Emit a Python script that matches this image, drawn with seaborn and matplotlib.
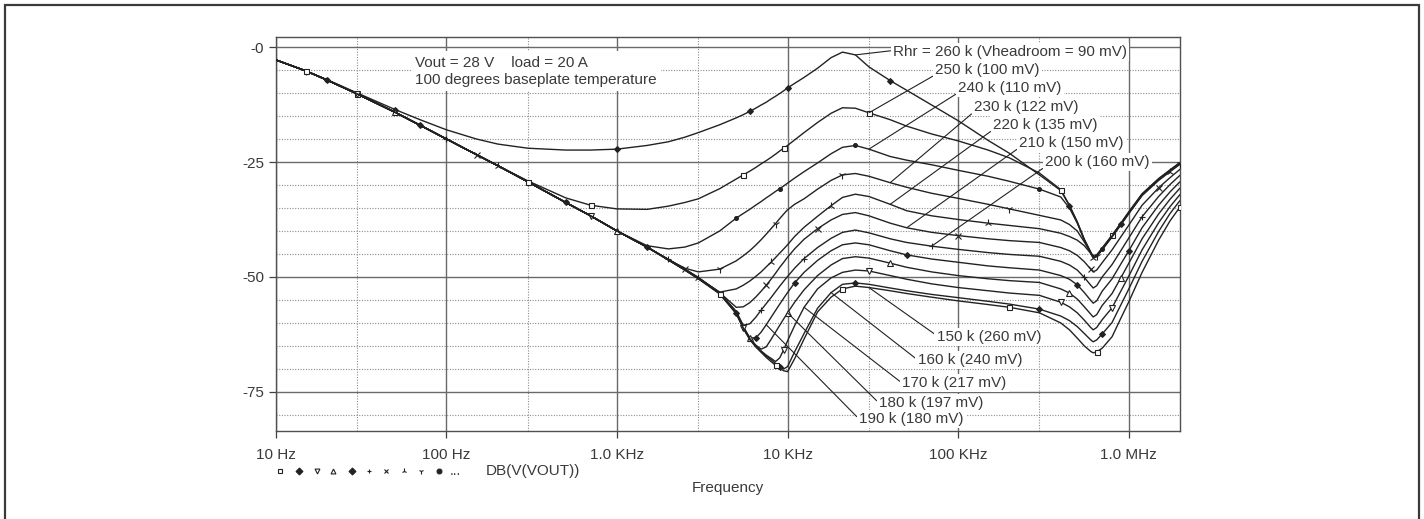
"""Headroom sweep Bode plot (PSpice style) redrawn with seaborn. Saves out.png."""
import matplotlib
matplotlib.use("Agg")
import matplotlib.pyplot as plt
from matplotlib.patches import Rectangle
from matplotlib.ticker import FixedLocator, MultipleLocator, NullFormatter
import pandas as pd
import seaborn as sns

# ---- data ------------------------------------------------------------------
FREQ_HZ = [
    10, 15, 20, 30, 50, 70, 100, 150, 200, 300, 500, 700,
    1e3, 1.5e3, 2e3, 2.5e3, 3e3, 4e3, 5e3, 5.5e3, 6e3, 6.5e3, 7e3, 7.5e3,
    8e3, 8.5e3, 9e3, 9.5e3, 10e3, 11e3, 12.5e3, 15e3, 18e3, 21e3, 25e3, 30e3,
    40e3, 50e3, 70e3, 100e3, 150e3, 200e3, 300e3, 400e3, 450e3, 500e3, 550e3, 600e3,
    620e3, 650e3, 700e3, 800e3, 900e3, 1e6, 1.2e6, 1.5e6, 1.75e6, 2e6,
]

# shared low-frequency roll-off (10 Hz .. 700 Hz)
LOW_DB = [-2.8, -5.2, -7.2, -10.2, -14.2, -17.0, -20.0, -23.4, -25.8, -29.3, -33.8, -36.7]

DB_260K = [
    -2.8, -5.2, -7.1, -10.0, -13.6, -15.8, -18.0, -20.0, -21.1, -22.0, -22.4, -22.4,
    -22.2, -21.4, -20.6, -19.6, -18.6, -16.9, -15.4, -14.7, -14.0, -13.3, -12.6, -12.0,
    -11.3, -10.7, -10.1, -9.5, -8.9, -7.9, -6.6, -4.6, -2.3, -1.1, -1.7, -4.3,
    -7.3, -9.4, -12.6, -16.0, -20.3, -23.1, -27.8, -31.2, -34.5, -38.0, -41.8, -44.6,
    -45.6, -45.3, -43.8, -41.0, -38.4, -36.0, -32.0, -28.7, -26.8, -25.2,
]
DB_250K = [
    -2.8, -5.2, -7.2, -10.2, -14.2, -17.0, -20.0, -23.4, -25.8, -29.1, -32.8, -34.4,
    -35.2, -35.3, -34.6, -33.8, -33.0, -30.8, -28.7, -27.8, -27.0, -26.2, -25.4, -24.7,
    -24.0, -23.3, -22.6, -22.0, -21.4, -20.2, -18.6, -16.4, -14.4, -13.2, -13.3, -14.3,
    -15.8, -17.2, -18.9, -20.4, -22.4, -24.1, -27.4, -31.0, -34.4, -38.1, -41.9, -44.7,
    -45.6, -45.2, -43.7, -40.9, -38.3, -35.9, -31.9, -28.6, -26.7, -25.1,
]
DB_240K = LOW_DB + [
    -40.0, -43.2, -43.9, -43.5, -42.6, -40.0, -37.2, -36.2, -35.3, -34.4, -33.6, -32.8,
    -32.1, -31.4, -30.8, -30.2, -29.6, -28.5, -27.1, -25.2, -23.2, -21.8, -21.4, -22.2,
    -23.8, -24.6, -25.6, -26.8, -28.1, -29.2, -30.9, -32.6, -35.0, -38.3, -42.0, -44.7,
    -45.7, -45.4, -43.9, -41.1, -38.5, -36.1, -32.1, -28.8, -26.9, -25.3,
]
DB_230K = LOW_DB + [
    -40.0, -43.5, -46.2, -48.1, -48.9, -48.3, -46.5, -45.4, -44.3, -43.1, -41.9, -40.7,
    -39.5, -38.4, -37.3, -36.3, -35.4, -34.2, -33.0, -30.9, -29.0, -27.8, -27.5, -28.1,
    -29.5, -30.5, -31.8, -32.9, -34.2, -35.2, -36.6, -37.6, -38.6, -40.0, -42.4, -44.8,
    -45.8, -45.5, -44.0, -41.2, -38.6, -36.2, -32.2, -28.9, -27.0, -25.4,
]
DB_220K = LOW_DB + [
    -40.0, -43.5, -46.2, -48.3, -50.3, -53.3, -52.6, -51.8, -50.9, -49.9, -48.9, -47.8,
    -46.8, -45.8, -44.8, -43.9, -43.0, -41.2, -39.2, -36.8, -34.5, -32.7, -32.0, -32.5,
    -34.2, -35.6, -36.7, -37.5, -38.3, -38.8, -39.5, -40.5, -41.2, -42.0, -43.2, -44.9,
    -45.9, -45.6, -44.1, -41.3, -38.7, -36.3, -32.3, -29.0, -27.1, -25.5,
]
DB_210K = LOW_DB + [
    -40.0, -43.5, -46.2, -48.3, -50.2, -53.4, -56.6, -56.5, -55.6, -54.4, -53.1, -51.8,
    -50.5, -49.2, -47.9, -46.8, -45.7, -43.9, -41.8, -39.5, -37.6, -36.4, -36.0, -36.7,
    -38.3, -39.3, -40.3, -41.0, -41.7, -42.1, -42.5, -43.6, -44.3, -45.3, -46.7, -48.3,
    -48.9, -48.5, -46.9, -44.1, -41.3, -38.8, -34.4, -30.6, -28.4, -26.6,
]
DB_200K = LOW_DB + [
    -40.0, -43.5, -46.2, -48.3, -50.1, -53.4, -57.5, -60.5, -60.2, -58.8, -57.2, -55.8,
    -54.5, -53.2, -52.0, -50.9, -49.9, -48.1, -46.0, -43.6, -41.6, -40.3, -39.8, -40.4,
    -41.7, -42.5, -43.3, -44.0, -44.7, -45.1, -45.5, -46.6, -47.4, -48.5, -50.1, -51.8,
    -52.4, -51.9, -50.0, -47.3, -44.3, -41.6, -36.9, -32.5, -29.9, -27.9,
]
DB_190K = LOW_DB + [
    -40.0, -43.5, -46.2, -48.4, -50.2, -53.5, -57.6, -60.8, -63.2, -63.3, -62.0, -60.4,
    -58.8, -57.3, -55.9, -54.6, -53.4, -51.3, -49.0, -46.4, -44.3, -43.0, -42.6, -43.0,
    -44.3, -45.2, -46.1, -46.8, -47.6, -48.0, -48.5, -49.7, -50.5, -51.7, -53.4, -55.1,
    -55.7, -55.2, -53.1, -50.4, -47.2, -44.4, -39.3, -34.4, -31.5, -29.3,
]
DB_180K = LOW_DB + [
    -40.0, -43.5, -46.3, -48.4, -50.3, -53.5, -57.7, -60.9, -63.3, -64.8, -65.7, -65.2,
    -63.6, -62.0, -60.5, -59.1, -57.8, -55.5, -52.8, -49.7, -47.4, -46.0, -45.6, -45.9,
    -47.0, -47.9, -48.9, -49.7, -50.4, -50.8, -51.2, -52.6, -53.5, -54.8, -56.5, -58.1,
    -58.7, -58.2, -56.2, -53.6, -50.2, -47.1, -41.7, -36.3, -33.1, -30.7,
]
DB_170K = LOW_DB + [
    -40.0, -43.5, -46.3, -48.5, -50.3, -53.6, -57.8, -61.0, -63.4, -64.9, -66.1, -67.0,
    -67.7, -68.4, -67.6, -65.8, -63.9, -60.6, -56.6, -52.6, -50.2, -49.0, -48.5, -48.7,
    -49.7, -50.5, -51.5, -52.3, -53.0, -53.5, -54.0, -55.5, -56.5, -57.8, -59.4, -61.0,
    -61.5, -61.0, -59.3, -56.7, -53.1, -49.9, -44.1, -38.2, -34.7, -32.1,
]
DB_160K = LOW_DB + [
    -40.0, -43.5, -46.3, -48.5, -50.4, -53.6, -57.9, -61.1, -63.5, -65.0, -66.2, -67.2,
    -68.0, -68.8, -69.5, -70.0, -69.5, -66.3, -62.3, -56.8, -53.4, -51.6, -51.3, -51.6,
    -52.4, -53.0, -53.8, -54.5, -55.3, -55.9, -57.0, -58.5, -59.5, -60.8, -62.3, -63.7,
    -64.1, -63.7, -62.4, -59.9, -56.1, -52.7, -46.6, -40.1, -36.2, -33.4,
]
DB_150K = LOW_DB + [
    -40.0, -43.5, -46.3, -48.5, -50.4, -53.7, -58.0, -61.2, -63.6, -65.2, -66.4, -67.5,
    -68.4, -69.2, -69.9, -70.4, -70.6, -67.8, -63.5, -57.6, -54.4, -52.6, -52.0, -52.3,
    -53.0, -53.6, -54.4, -55.2, -56.0, -56.6, -57.8, -60.0, -61.5, -63.3, -65.0, -66.2,
    -66.5, -66.3, -65.5, -63.0, -59.0, -55.5, -49.0, -42.0, -37.8, -34.8,
]

RHR_K = [260, 250, 240, 230, 220, 210, 200, 190, 180, 170, 160, 150]
HEADROOM_MV = [90, 100, 110, 122, 135, 150, 160, 180, 197, 217, 240, 260]
CURVES = [DB_260K, DB_250K, DB_240K, DB_230K, DB_220K, DB_210K,
          DB_200K, DB_190K, DB_180K, DB_170K, DB_160K, DB_150K]

X_TICKS = [10, 100, 1e3, 1e4, 1e5, 1e6]
X_TICK_LABELS = ["10 Hz", "100 Hz", "1.0 KHz", "10 KHz", "100 KHz", "1.0 MHz"]
Y_TICKS = [0, -25, -50, -75]
Y_TICK_LABELS = ["-0", "-25", "-50", "-75"]

# PSpice trace symbols, in trace order 150k, 160k, ... (then they repeat)
SYMBOLS = ["s", "D", "v", "^", "D", "+", "x", "2", "1", "o"]

# ---- style ----------------------------------------------------------------
sns.set_theme(style="white")
plt.rcParams["font.family"] = ["Liberation Sans", "DejaVu Sans"]
plt.rcParams.update({"axes.edgecolor": "#505050", "text.color": "#333333"})

INK = "#222222"
TXT = "#3a3a3a"
FS = 11

rows = []
for k, vals in zip(RHR_K, CURVES):
    for f, v in zip(FREQ_HZ, vals):
        rows.append((k, f, v))
df = pd.DataFrame(rows, columns=["rhr_k", "freq", "db"])

fig = plt.figure(figsize=(14.24, 5.19), dpi=100)
ax = fig.add_axes([0.1938, 0.1696, 0.6348, 0.7592])

for k in RHR_K:
    trace_no = RHR_K[::-1].index(k)          # 150k is trace 0
    sym = SYMBOLS[trace_no % len(SYMBOLS)]
    hollow = sym in ("s", "v", "^")
    size = {"s": 3.6, "D": 3.0, "v": 4.0, "^": 4.0, "+": 4.5, "x": 4.0,
            "1": 5.5, "2": 5.5, "o": 2.8}[sym]
    sns.lineplot(data=df[df.rhr_k == k], x="freq", y="db", ax=ax,
                 estimator=None, legend=False, color=INK, linewidth=1.0,
                 marker=sym, markersize=size, markeredgewidth=0.8,
                 markerfacecolor="white" if hollow else INK,
                 markeredgecolor=INK, markevery=(trace_no % 8 + 1, 8), zorder=3)

ax.set_xscale("log")
ax.set_xlim(10, 2e6)
ax.set_ylim(-83.5, 2.2)

ax.set_xticks(X_TICKS)
ax.set_xticklabels(X_TICK_LABELS)
ax.xaxis.set_minor_locator(FixedLocator([30, 300, 3e3, 3e4, 3e5]))
ax.xaxis.set_minor_formatter(NullFormatter())
ax.set_yticks(Y_TICKS)
ax.set_yticklabels(Y_TICK_LABELS)
ax.yaxis.set_minor_locator(MultipleLocator(5))

ax.tick_params(which="major", bottom=True, left=True, direction="out",
               length=5, width=0.9, color="#404040", labelsize=FS,
               labelcolor=TXT)
ax.tick_params(axis="x", which="major", pad=7)
ax.tick_params(axis="y", which="major", pad=3.5)
ax.tick_params(which="minor", length=0)

ax.set_axisbelow(True)
ax.grid(which="major", color="#6a6a6a", linewidth=1.0, linestyle="-")
ax.grid(which="minor", color="#8c8c8c", linewidth=0.8, linestyle=(0, (1, 1.4)))
for side in ax.spines.values():
    side.set_linewidth(1.0)
    side.set_color("#505050")

ax.set_xlabel("Frequency", fontsize=FS, color=TXT)
ax.xaxis.set_label_coords(0.5, -0.128)
ax.xaxis.label.set_va("top")
ax.set_ylabel("")

# condition note, top left
ax.text(0.154, 0.952, "Vout = 28 V    load = 20 A\n100 degrees baseplate temperature",
        transform=ax.transAxes, ha="left", va="top", fontsize=FS, color=TXT,
        linespacing=1.25, zorder=5,
        bbox=dict(boxstyle="square,pad=0.3", fc="white", ec="none"))

# trace labels with leader lines: (rhr, text, leader freq, text pos, relpos)
LABELS = [
    (260, "Rhr = 260 k (Vheadroom = 90 mV)", 25e3, (0.6825, 0.962), (0, 0.6)),
    (250, "250 k (100 mV)", 30e3, (0.729, 0.916), (0, 0.15)),
    (240, "240 k (110 mV)", 30e3, (0.7544, 0.8706), (0, 0.15)),
    (230, "230 k (122 mV)", 40e3, (0.772, 0.822), (0, 0.15)),
    (220, "220 k (135 mV)", 40e3, (0.793, 0.7766), (0, 0.15)),
    (210, "210 k (150 mV)", 50e3, (0.822, 0.731), (0, 0.15)),
    (200, "200 k (160 mV)", 70e3, (0.8507, 0.6827), (0, 0.15)),
    (150, "150 k (260 mV)", 30e3, (0.731, 0.2386), (0, 0.6)),
    (160, "160 k (240 mV)", 18e3, (0.710, 0.180), (0, 0.5)),
    (170, "170 k (217 mV)", 12.5e3, (0.6925, 0.1218), (0, 0.5)),
    (180, "180 k (197 mV)", 10e3, (0.667, 0.0711), (0, 0.5)),
    (190, "190 k (180 mV)", 7.5e3, (0.645, 0.0305), (0, 0.5)),
]
for k, text, f, pos, rel in LABELS:
    vals = CURVES[RHR_K.index(k)]
    y = vals[FREQ_HZ.index(f)]
    ax.annotate(text, xy=(f, y), xycoords="data", xytext=pos,
                textcoords="axes fraction", ha="left", va="center",
                fontsize=FS, color=TXT, zorder=6,
                bbox=dict(boxstyle="square,pad=0.15", fc="white", ec="none"),
                arrowprops=dict(arrowstyle="-", color=INK, lw=0.8,
                                shrinkA=0, shrinkB=0, relpos=rel))

# PSpice trace legend under the axis
leg_x = [280, 299, 317, 333, 352, 369, 386, 404, 421, 439]
for px, sym in zip(leg_x, SYMBOLS):
    hollow = sym in ("s", "v", "^")
    ax.plot([(px - 276) / 904], [-0.1015], transform=ax.transAxes,
            clip_on=False, linestyle="none", marker=sym,
            markersize=4.2 if sym in ("1", "2") else 3.5,
            markeredgewidth=0.8, color=INK,
            markerfacecolor="white" if hollow else INK)
ax.text(0.1925, -0.1015, "...", transform=ax.transAxes, ha="left",
        va="center", fontsize=FS - 1, color=TXT)
ax.text(0.2323, -0.1015, "DB(V(VOUT))", transform=ax.transAxes, ha="left",
        va="center", fontsize=FS, color=TXT)

# outer frame of the figure
fig.add_artist(Rectangle((5 / 1424, -0.02), 1414 / 1424, 1 - 5 / 519 + 0.02,
                         transform=fig.transFigure, fill=False,
                         edgecolor="#3a3a3a", linewidth=1.6))

fig.savefig("out.png", dpi=100, facecolor="white")
plt.close(fig)
